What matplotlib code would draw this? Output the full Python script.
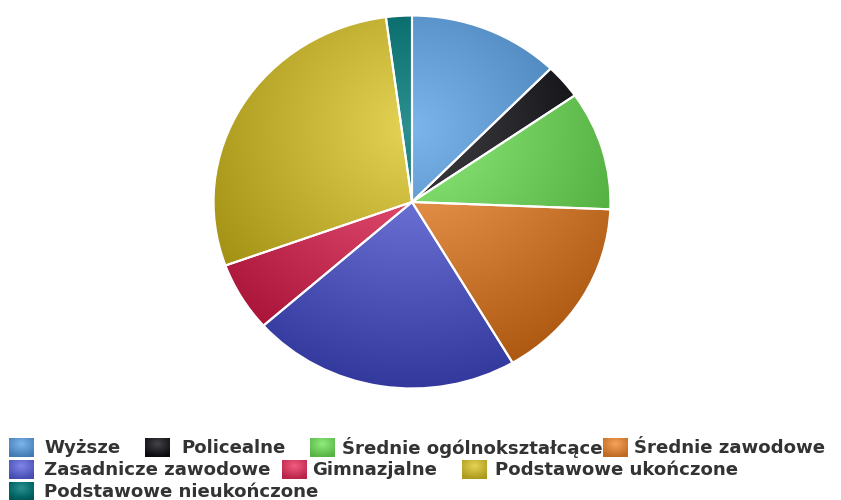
import numpy as np
import matplotlib
matplotlib.use("Agg")
import matplotlib.pyplot as plt
from matplotlib.colors import to_rgb

# udział wykształcenia (%)
categories = ["Wyższe", "Policealne", "Średnie ogólnokształcące", "Średnie zawodowe",
              "Zasadnicze zawodowe", "Gimnazjalne", "Podstawowe ukończone",
              "Podstawowe nieukończone"]
shares = [12.3, 3.0, 10.3, 15.9, 21.9, 6.0, 28.4, 2.1]
colors = ["#7cb5ec", "#434348", "#90ed7d", "#f7a35c",
          "#8085e9", "#f15c80", "#e4d354", "#2b908f"]

# legend rows: (category index, x of square, x of text) in px
legend_rows = [[(0, 9, 44), (1, 145, 181), (2, 310, 342), (3, 603, 634)],
               [(4, 9, 44), (5, 282, 312), (6, 462, 495)],
               [(7, 9, 44)]]

W, H = 841, 500


def radial(color, nx, ny, cx=0.5, cy=0.3, r=0.7, k=0.3):
    # highcharts style radial gradient, darker at the rim
    xs = np.linspace(0, 1, nx)
    ys = np.linspace(0, 1, ny)
    X, Y = np.meshgrid(xs, ys)
    d = np.clip(np.sqrt((X - cx) ** 2 + (Y - cy) ** 2) / r, 0, 1)
    base = np.array(to_rgb(color))
    img = base[None, None, :] - k * d[:, :, None]
    return np.clip(img, 0, 1)


fig = plt.figure(figsize=(W / 100, H / 100), dpi=100)

# pie area in pixels (slightly wider than tall, as in the source)
left, right, top, bottom = 213, 611, 15, 389
ax = fig.add_axes([left / W, 1 - bottom / H, (right - left) / W, (bottom - top) / H])

wedges, _ = ax.pie(shares, colors=colors, startangle=90, counterclock=False,
                   radius=1.0, wedgeprops=dict(edgecolor="white", linewidth=1.5))
for w, c in zip(wedges, colors):
    # row 0 of the image is the top of the pie
    im = ax.imshow(radial(c, 300, 300), extent=(-1, 1, -1, 1), origin="upper",
                   zorder=1, interpolation="bilinear")
    im.set_clip_path(w)
    w.set_facecolor("none")
    w.set_zorder(2)
ax.set_aspect("auto")
ax.set_xlim(-1.003, 1.003)
ax.set_ylim(-1.003, 1.003)
ax.axis("off")

# legend drawn in pixel coordinates
lg = fig.add_axes([0, 0, 1, 1], zorder=5)
lg.set_xlim(0, W)
lg.set_ylim(H, 0)
lg.axis("off")

row_y = [438, 460, 482]
sq_w, sq_h = 25, 19
for r, row in enumerate(legend_rows):
    y0 = row_y[r]
    for idx, xs, xt in row:
        lg.imshow(radial(colors[idx], 30, 24, k=0.22), extent=(xs, xs + sq_w, y0 + sq_h, y0),
                  origin="upper", aspect="auto", interpolation="bilinear")
        lg.text(xt, y0 + sq_h / 2 + 0.5, categories[idx], ha="left", va="center",
                fontsize=13.1, fontweight="bold", color="#333333", family="DejaVu Sans")
lg.set_xlim(0, W)
lg.set_ylim(H, 0)

fig.savefig("out.png", dpi=100, facecolor="white")
